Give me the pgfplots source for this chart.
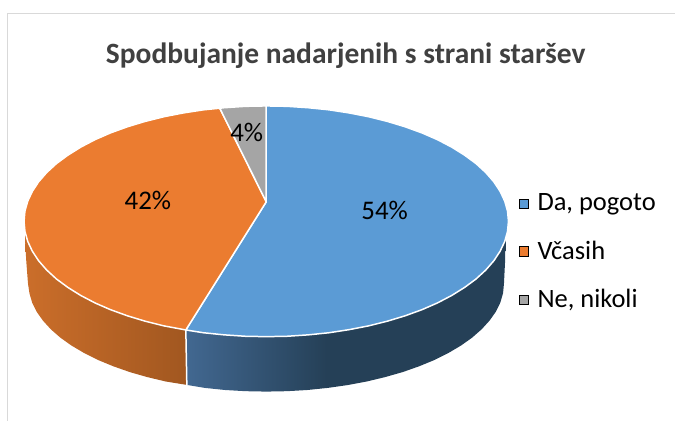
\documentclass[border=0pt]{standalone}
\usepackage{pgfplots}
\pgfplotsset{compat=1.18}
\usepackage{fontspec}
\setmainfont{Carlito}

\definecolor{pieblue}{HTML}{5B9BD5}
\definecolor{pieorange}{HTML}{EB7C30}
\definecolor{piegray}{HTML}{A5A5A5}
\definecolor{framegray}{HTML}{D9D9D9}
\definecolor{titlegray}{HTML}{404040}
\definecolor{bluelight}{HTML}{426891}
\definecolor{bluedark}{HTML}{254057}
\definecolor{orangelight}{HTML}{CB6E2A}
\definecolor{orangedark}{HTML}{A15720}

% side walls: darker to the right, bbox maps to 25bp..75bp
\pgfdeclarehorizontalshading{bluewall}{100bp}{
  color(0bp)=(bluelight);
  color(25bp)=(bluelight);
  color(47bp)=(bluedark);
  color(100bp)=(bluedark)}
\pgfdeclarehorizontalshading{orangewall}{100bp}{
  color(0bp)=(orangelight);
  color(25bp)=(orangelight);
  color(75bp)=(orangedark);
  color(100bp)=(orangedark)}

\begin{document}
\begin{tikzpicture}
\begin{axis}[
    width=676bp, height=421bp, scale only axis,
    xmin=0, xmax=676, ymin=0, ymax=421,
    y dir=reverse,
    axis lines=none,
    clip=false,
    title={\fontsize{29.6}{33}\selectfont\bfseries\color{titlegray}Spodbujanje nadarjenih s strani staršev},
    title style={at={(axis cs:346,62)}, anchor=center, inner sep=0pt, yshift=0pt},
    legend style={
        at={(axis cs:519,192)}, anchor=north west,
        draw=none, fill=none, inner sep=0pt,
        font=\fontsize{26.6}{30}\selectfont,
        row sep=24.5bp,
        legend cell align=left,
        /tikz/every odd column/.append style={column sep=7bp},
    },
    legend image code/.code={\fill[#1] (0bp,-5bp) rectangle (9.5bp,4.5bp);},
    nodes near coords style={font=\fontsize{27}{31}\selectfont, anchor=center, inner sep=0pt},
]
% page extent
\addplot[forget plot, white, line width=0.1pt] coordinates {(0,0)(676,0)(676,421)(0,421)(0,0)};
% chart frame
\addplot[forget plot, framegray, line width=1.5bp] coordinates {(7.5,421)(7.5,13.5)(676,13.5)};

% side walls
\addplot[forget plot, shading=bluewall, draw=none] coordinates {
 (506,235)(506,240)(505.6,262)(504.5,284)(503.6,293.4)(500.9,302.8)(496.4,312)(490.1,320.9)(482.2,329.6)(472.6,338)(461.5,345.9)
 (448.8,353.4)(434.8,360.4)(419.5,366.7)(403,372.5)(385.5,377.5)(367.1,381.9)(347.9,385.5)(328.1,388.3)(307.8,390.4)
 (287.2,391.6)(266.5,392)(245.8,391.6)(225.2,390.4)(204.9,388.3)(187,385.3)(186,325)} -- cycle;
\addplot[forget plot, shading=orangewall, draw=none] coordinates {
 (186,325)(187,385.3)(165.9,381.9)(147.5,377.5)(130,372.5)(113.5,366.7)(98.2,360.4)(84.2,353.4)(71.5,345.9)(60.4,338)
 (50.8,329.6)(42.9,320.9)(36.6,312)(32.1,302.8)(29.4,293.4)(28,284)(26.3,262)(25,240)(25,232)} -- cycle;
\addplot[forget plot, white, line width=1.5bp] coordinates {(186,330)(187,385.3)};

% top face, 54 / 42 / 4
\addplot[forget plot, fill=pieblue, draw=white, line width=1.5bp, line join=round] coordinates {
 (266.5,202)(266.5,106)(287.6,106.4)(308.6,107.8)(329.3,109.9)(349.4,113)(369,116.8)(387.8,121.5)(405.6,126.9)(422.4,133)
 (438,139.8)(452.3,147.3)(465.1,155.3)(476.5,163.7)(486.3,172.7)(494.4,182)(500.7,191.6)(505.3,201.4)(508.1,211.4)
 (509,221.5)(508.1,231.6)(505.3,241.6)(500.7,251.4)(494.4,261)(486.3,270.3)(476.5,279.3)(465.1,287.7)(452.3,295.7)
 (438,303.2)(422.4,310)(405.6,316.1)(387.8,321.5)(369,326.2)(349.4,330)(329.3,333.1)(308.6,335.2)(287.6,336.6)
 (266.5,337)(245.4,336.6)(224.4,335.2)(203.7,333.1)(186,330.3)} -- cycle;
\addplot[forget plot, fill=pieorange, draw=white, line width=1.5bp, line join=round] coordinates {
 (266.5,202)(186,330.3)(164,326.2)(145.2,321.5)(127.4,316.1)(110.6,310)(95,303.2)(80.7,295.7)(67.9,287.7)(56.5,279.3)
 (46.7,270.3)(38.6,261)(32.3,251.4)(27.7,241.6)(24.9,231.6)(24,221.5)(24.9,211.4)(27.7,201.4)(32.3,191.6)(38.6,182)
 (46.7,172.7)(56.5,163.7)(67.9,155.3)(80.7,147.3)(95,139.8)(110.6,133)(127.4,126.9)(145.2,121.5)(164,116.8)(183.6,113)
 (203.7,109.9)(220,108.3)} -- cycle;
\addplot[forget plot, fill=piegray, draw=white, line width=1.5bp, line join=round] coordinates {
 (266.5,202)(220,108.3)(224.4,107.8)(245.4,106.4)(266.5,106)} -- cycle;

% percentage labels
\addplot[forget plot, draw=none, mark=none,
    point meta=explicit symbolic,
    nodes near coords={\pgfplotspointmeta\%}] table[meta=v] {
x y v
385 211 54
148 201 42
247 133 4
};

\addlegendimage{fill=pieblue}
\addlegendentry{Da, pogoto}
\addlegendimage{fill=pieorange}
\addlegendentry{Včasih}
\addlegendimage{fill=piegray}
\addlegendentry{Ne, nikoli}
\end{axis}
\end{tikzpicture}
\end{document}
